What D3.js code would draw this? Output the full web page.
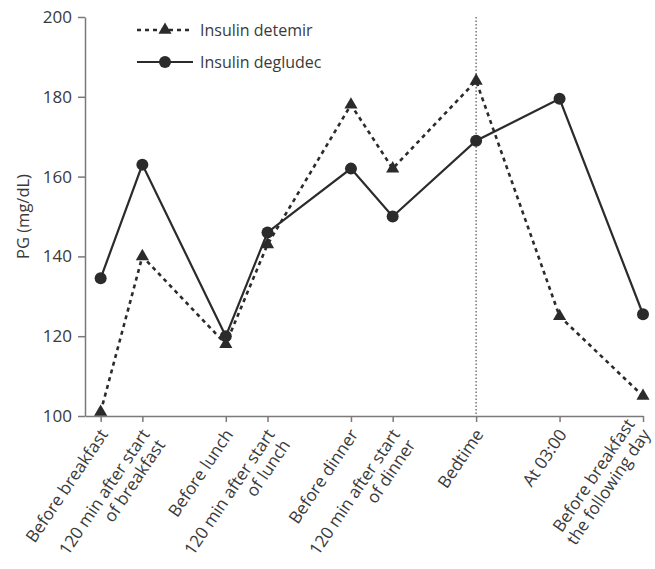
<!DOCTYPE html>
<html>
<head>
<meta charset="utf-8">
<script src="https://cdn.jsdelivr.net/npm/d3@7"></script>
<style>
  body { margin: 0; background: #fff; }
  svg { font-family: 'Open Sans', sans-serif; }
</style>
</head>
<body>
<svg id="chart" width="655" height="569"></svg>
<script>
// time points (label lines) and their clock offset in hours from breakfast
const timepoints = [
  ['Before breakfast'],
  ['120 min after start', 'of breakfast'],
  ['Before lunch'],
  ['120 min after start', 'of lunch'],
  ['Before dinner'],
  ['120 min after start', 'of dinner'],
  ['Bedtime'],
  ['At 03:00'],
  ['Before breakfast', 'the following day']
];
const hours = [0, 2, 6, 8, 12, 14, 18, 22, 26];

const detemir = [101, 140, 118, 143, 178, 162, 184, 125, 105];
const degludec = [134.5, 163, 120, 146, 162, 150, 169, 179.5, 125.5];

const yTicks = [100, 120, 140, 160, 180, 200];
const bedtimeHour = 18;

const svg = d3.select('#chart');
const ink = '#2b2b2b';
const axisCol = '#7a7a7a';
const textCol = '#3a3a3a';

let x = d3.scaleLinear().domain([-0.75, 26]).range([85, 643]);
let y = d3.scaleLinear().domain([100, 200]).range([416, 17]);

// y axis
const yAxis = svg.append('g')
  .attr('transform', 'translate(85,0)')
  .call(d3.axisLeft(y).tickValues(yTicks).tickSize(7).tickSizeOuter(0).tickPadding(6));
yAxis.select('.domain').attr('stroke', axisCol).attr('stroke-width', 1.5);
yAxis.selectAll('.tick line').attr('stroke', axisCol).attr('stroke-width', 1.5);
yAxis.selectAll('.tick text')
  .attr('fill', textCol)
  .style('font-size', '17px')
  .style('font-family', "'Open Sans', sans-serif");

// x axis
const xAxis = svg.append('g')
  .attr('transform', 'translate(0,416)')
  .call(d3.axisBottom(x).tickValues(hours).tickSize(6).tickSizeOuter(0).tickFormat(''));
xAxis.select('.domain').attr('stroke', axisCol).attr('stroke-width', 1.5);
xAxis.selectAll('.tick line').attr('stroke', axisCol).attr('stroke-width', 1.5);

// rotated category labels, the longest line sits at the tick
const lab = svg.append('g').selectAll('text.xlab')
  .data(timepoints)
  .enter()
  .append('text')
  .attr('class', 'xlab')
  .attr('transform', (d, i) => `translate(${x(hours[i]) + 3},${431}) rotate(-56)`)
  .attr('text-anchor', 'end')
  .attr('fill', textCol)
  .style('font-size', '17px');

lab.each(function(lines) {
  const longest = d3.maxIndex(lines, s => s.length);
  d3.select(this).selectAll('tspan')
    .data(lines)
    .enter()
    .append('tspan')
    .attr('x', 0)
    .attr('y', (d, i) => `${(i - longest) * 1.1 + 0.35}em`)
    .text(d => d);
});

// y label
svg.append('text')
  .text('PG (mg/dL)')
  .attr('transform', `translate(29,${(y(100) + y(200)) / 2}) rotate(-90)`)
  .attr('text-anchor', 'middle')
  .attr('fill', textCol)
  .style('font-size', '16.5px');

// bedtime marker
svg.append('line')
  .attr('x1', x(bedtimeHour)).attr('x2', x(bedtimeHour))
  .attr('y1', y(200)).attr('y2', y(100))
  .attr('stroke', '#555')
  .attr('stroke-width', 1.2)
  .attr('stroke-dasharray', '1.5,2');

const line = d3.line()
  .x((d, i) => x(hours[i]))
  .y(d => y(d));

// detemir
svg.append('path')
  .datum(detemir)
  .attr('d', line)
  .attr('fill', 'none')
  .attr('stroke', ink)
  .attr('stroke-width', 2.6)
  .attr('stroke-dasharray', '4,4');

// degludec
svg.append('path')
  .datum(degludec)
  .attr('d', line)
  .attr('fill', 'none')
  .attr('stroke', ink)
  .attr('stroke-width', 2.2);

const tri = d3.symbol().type(d3.symbolTriangle).size(75);

svg.append('g').selectAll('path')
  .data(detemir)
  .enter()
  .append('path')
  .attr('d', tri)
  .attr('transform', (d, i) => `translate(${x(hours[i])},${y(d)})`)
  .attr('fill', ink);

svg.append('g').selectAll('circle')
  .data(degludec)
  .enter()
  .append('circle')
  .attr('cx', (d, i) => x(hours[i]))
  .attr('cy', d => y(d))
  .attr('r', 6)
  .attr('fill', ink);

// legend
const legend = [
  { name: 'Insulin detemir', dash: '4,4', width: 2.6, mark: 'tri' },
  { name: 'Insulin degludec', dash: null, width: 2.2, mark: 'circle' }
];

const lg = svg.append('g').selectAll('g')
  .data(legend)
  .enter()
  .append('g')
  .attr('transform', (d, i) => `translate(137,${30 + i * 32})`);

lg.append('line')
  .attr('x1', 0).attr('x2', 56)
  .attr('stroke', ink)
  .attr('stroke-width', d => d.width)
  .attr('stroke-dasharray', d => d.dash);

lg.filter(d => d.mark === 'tri').append('path')
  .attr('d', tri)
  .attr('transform', 'translate(28,0)')
  .attr('fill', ink);

lg.filter(d => d.mark === 'circle').append('circle')
  .attr('cx', 28)
  .attr('r', 6)
  .attr('fill', ink);

lg.append('text')
  .text(d => d.name)
  .attr('x', 63)
  .attr('dy', '0.35em')
  .attr('fill', textCol)
  .style('font-size', '16px');
</script>
</body>
</html>
